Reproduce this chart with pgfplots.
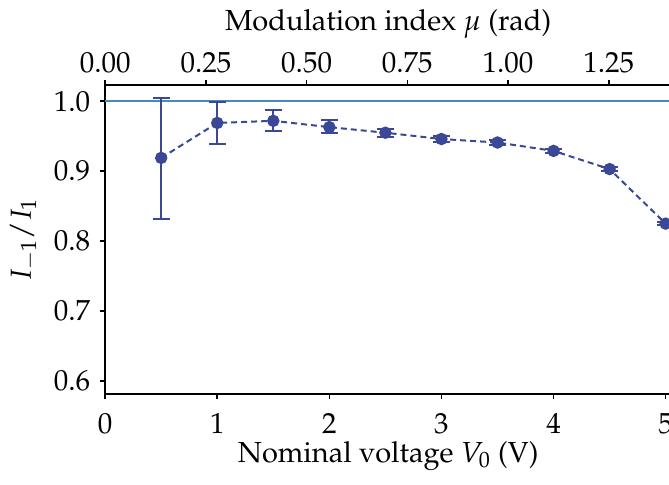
\documentclass[border=0pt]{standalone}
\usepackage[T1]{fontenc}
\usepackage{mathpazo}
\usepackage{pgfplots}
\usetikzlibrary{calc}
\pgfplotsset{compat=1.18}
\definecolor{dataC}{RGB}{59,72,150}
\definecolor{refC}{RGB}{70,140,185}
\begin{document}
\fontsize{14.5}{17}\selectfont
\begin{tikzpicture}
\begin{axis}[
  name=ax,
  scale only axis,
  width=283pt, height=154.5pt,
  xmin=0, xmax=5.05,
  ymin=0.581, ymax=1.023,
  axis x line*=bottom,
  axis y line*=left,
  axis line style={line width=1pt},
  tick style={line width=0.8pt, black},
  major tick length=2.5pt,
  tick align=outside,
  xtick={0,1,2,3,4,5},
  ytick={0.6,0.7,0.8,0.9,1.0},
  xticklabel style={yshift=-2pt},
  yticklabel style={/pgf/number format/.cd, fixed, fixed zerofill, precision=1},
  xlabel={Nominal voltage $V_0$ (V)},
  ylabel={$I_{-1}/I_1$},
  xlabel style={yshift=6pt},
  ylabel style={yshift=-2pt},
  clip=false,
]
\addplot[refC, line width=1pt, forget plot] coordinates {(0,1) (5.05,1)};
\addplot[dataC, line width=1pt, dash pattern=on 3pt off 2pt,
  mark=*, mark size=2.6pt, mark options={solid},
  error bars/.cd, y dir=both, y explicit,
  error bar style={line width=1pt, solid},
  error mark options={rotate=90, mark size=4.3pt, line width=1pt, solid}]
  table[x=x, y=y, y error plus=ep, y error minus=em] {
x   y     ep    em
0.5 0.919 0.085 0.087
1.0 0.969 0.030 0.030
1.5 0.972 0.015 0.015
2.0 0.963 0.010 0.009
2.5 0.955 0.006 0.006
3.0 0.946 0.004 0.004
3.5 0.941 0.004 0.004
4.0 0.929 0.003 0.003
4.5 0.903 0.003 0.003
5.0 0.825 0.002 0.002
};
\coordinate (R) at (axis cs:5.03,0.6);
\end{axis}
\begin{axis}[
  name=top,
  scale only axis,
  width=283pt, height=154.5pt,
  xmin=0, xmax=1.4049,
  ymin=0.581, ymax=1.023,
  axis x line*=top,
  axis y line=none,
  axis line style={line width=1pt},
  tick style={line width=0.8pt, black},
  major tick length=2.5pt,
  tick align=outside,
  xtick={0,0.25,0.5,0.75,1.0,1.25},
  xticklabel style={yshift=-1.5pt, /pgf/number format/.cd, fixed, fixed zerofill, precision=2},
  xlabel={Modulation index $\mu$ (rad)},
  xlabel style={yshift=-3pt},
]
\addplot[draw=none] coordinates {(0,0.8)};
\end{axis}
\pgfresetboundingbox
\useasboundingbox (ax.outer south west |- top.outer north) rectangle ($(R |- ax.outer south)+(0,-2pt)$);
\end{tikzpicture}
\end{document}
